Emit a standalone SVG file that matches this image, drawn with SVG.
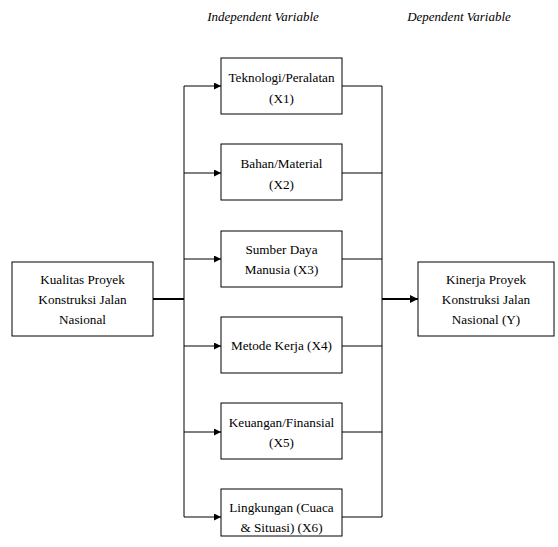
<svg xmlns="http://www.w3.org/2000/svg" width="558" height="547" viewBox="0 0 558 547">
<defs>
<marker id="ah" viewBox="0 0 10 10" refX="10" refY="5" markerWidth="7" markerHeight="7" markerUnits="userSpaceOnUse" orient="auto"><path d="M0,0 L10,5 L0,10 z" fill="#000"/></marker>
<marker id="ahb" viewBox="0 0 10 10" refX="10" refY="5" markerWidth="8" markerHeight="8" markerUnits="userSpaceOnUse" orient="auto"><path d="M0,0 L10,5 L0,10 z" fill="#000"/></marker>
</defs>
<style>
.box{fill:#fff;stroke:#000;stroke-width:1}
text{font-family:"Liberation Serif","Times New Roman",serif;font-size:13.2px;fill:#000;text-anchor:middle}
.hdr{font-style:italic;font-size:13px}
.ln{fill:none;stroke:#000;stroke-width:1}
.thk{fill:none;stroke:#000;stroke-width:2}
</style>
<rect width="558" height="547" fill="#fff"/>
<text class="hdr" x="263" y="21">Independent Variable</text>
<text class="hdr" x="459" y="21">Dependent Variable</text>
<g id="connectors">
<path class="thk" d="M153,299 H184"/>
<path class="ln" d="M184,86 V517"/>
<path class="ln" d="M184,86 H221" marker-end="url(#ah)"/>
<path class="ln" d="M184,173 H221" marker-end="url(#ah)"/>
<path class="ln" d="M184,259 H221" marker-end="url(#ah)"/>
<path class="ln" d="M184,346 H221" marker-end="url(#ah)"/>
<path class="ln" d="M184,432 H221" marker-end="url(#ah)"/>
<path class="ln" d="M184,517 H221" marker-end="url(#ah)"/>
<path class="ln" d="M342,86 H382 M342,173 H382 M342,259 H382 M342,346 H382 M342,432 H382 M342,517 H382"/>
<path class="ln" d="M382,86 V517"/>
<path class="thk" d="M382,299 H418" marker-end="url(#ahb)"/>
</g>
<g id="n-kualitas">
<rect class="box" x="12" y="262" width="141" height="74"/>
<text x="82.5" y="284">Kualitas Proyek</text>
<text x="82.5" y="304">Konstruksi Jalan</text>
<text x="82.5" y="324">Nasional</text>
</g>
<g id="n-x1">
<rect class="box" x="221" y="58" width="121" height="56"/>
<text x="281.5" y="82">Teknologi/Peralatan</text>
<text x="281.5" y="103">(X1)</text>
</g>
<g id="n-x2">
<rect class="box" x="221" y="144" width="121" height="56"/>
<text x="281.5" y="168">Bahan/Material</text>
<text x="281.5" y="189">(X2)</text>
</g>
<g id="n-x3">
<rect class="box" x="221" y="231" width="121" height="56"/>
<text x="281.5" y="254">Sumber Daya</text>
<text x="281.5" y="274">Manusia (X3)</text>
</g>
<g id="n-x4">
<rect class="box" x="221" y="317" width="121" height="56"/>
<text x="281.5" y="350">Metode Kerja (X4)</text>
</g>
<g id="n-x5">
<rect class="box" x="221" y="403" width="121" height="56"/>
<text x="281.5" y="427">Keuangan/Finansial</text>
<text x="281.5" y="447">(X5)</text>
</g>
<g id="n-x6">
<rect class="box" x="221" y="489" width="121" height="47"/>
<text x="281.5" y="512">Lingkungan (Cuaca</text>
<text x="281.5" y="532">&amp; Situasi) (X6)</text>
</g>
<g id="n-kinerja">
<rect class="box" x="418" y="262" width="136" height="74"/>
<text x="486" y="284">Kinerja Proyek</text>
<text x="486" y="304">Konstruksi Jalan</text>
<text x="486" y="324">Nasional (Y)</text>
</g>
</svg>
